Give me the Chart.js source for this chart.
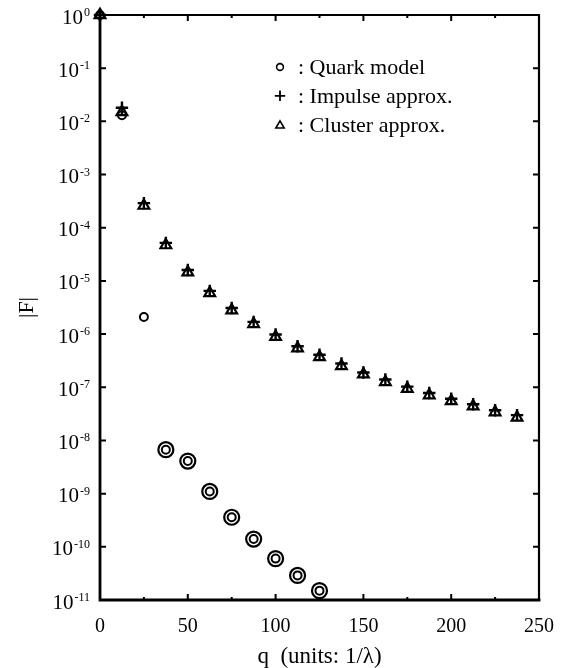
<!DOCTYPE html>
<html>
<head>
<meta charset="utf-8">
<script src="https://cdn.jsdelivr.net/npm/chart.js@4.4.1/dist/chart.umd.min.js"></script>
<style>
  html, body { margin: 0; padding: 0; background: #fff; }
  canvas { display: block; }
</style>
</head>
<body>
<canvas id="formFactorChart" width="569" height="668"></canvas>
<script>
// momentum transfer q (units 1/lambda)
const qValues = [0, 12.5, 25, 37.5, 50, 62.5, 75, 87.5, 100, 112.5, 125,
    137.5, 150, 162.5, 175, 187.5, 200, 212.5, 225, 237.5];

// |F| for each model
const quarkModel = [1, 1.3e-2, 2.1e-6, 6.7e-9, 4.1e-9, 1.1e-9, 3.6e-10, 1.4e-10, 6.0e-11, 2.9e-11, 1.5e-11];
const impulseApprox = [1, 1.8e-2, 2.9e-4, 5.2e-5, 1.6e-5, 6.5e-6, 3.1e-6, 1.7e-6, 9.8e-7, 5.9e-7, 4.1e-7,
    2.8e-7, 1.9e-7, 1.4e-7, 1.03e-7, 7.8e-8, 6.1e-8, 4.8e-8, 3.7e-8, 3.0e-8];
const clusterApprox = [1, 1.5e-2, 2.6e-4, 4.7e-5, 1.45e-5, 5.9e-6, 2.8e-6, 1.55e-6, 8.9e-7, 5.4e-7, 3.7e-7,
    2.5e-7, 1.75e-7, 1.25e-7, 9.4e-8, 7.1e-8, 5.5e-8, 4.4e-8, 3.4e-8, 2.7e-8];

const yTickExps = [0, -1, -2, -3, -4, -5, -6, -7, -8, -9, -10, -11];
const xTickLabels = [0, 50, 100, 150, 200, 250];

const legendLabels = ['Quark model', 'Impulse approx.', 'Cluster approx.'];

const serif = '"Liberation Serif", "Times New Roman", serif';
Chart.defaults.font.family = serif;
Chart.defaults.color = '#000';

const toPoints = arr => arr.map((v, i) => ({ x: qValues[i], y: v }));

// box frame with inward ticks on all four sides
const frameAndTicks = {
    id: 'frameAndTicks',
    beforeDatasetsDraw(chart) {
        const { ctx, chartArea: a, scales: { x, y } } = chart;
        ctx.save();
        ctx.strokeStyle = '#000';
        ctx.lineCap = 'square';

        ctx.lineWidth = 2.2;
        ctx.beginPath();
        ctx.moveTo(a.left, a.top); ctx.lineTo(a.right, a.top); ctx.lineTo(a.right, a.bottom);
        ctx.stroke();
        ctx.lineWidth = 2.8;
        ctx.beginPath();
        ctx.moveTo(a.left, a.top); ctx.lineTo(a.left, a.bottom); ctx.lineTo(a.right, a.bottom);
        ctx.stroke();

        ctx.lineCap = 'butt';
        ctx.lineWidth = 2;
        ctx.beginPath();
        yTickExps.forEach(e => {
            const py = y.getPixelForValue(Math.pow(10, e));
            ctx.moveTo(a.left, py); ctx.lineTo(a.left + 6, py);
            ctx.moveTo(a.right, py); ctx.lineTo(a.right - 6, py);
        });
        xTickLabels.forEach((v, i) => {
            const px = x.getPixelForValue(v);
            ctx.moveTo(px, a.bottom); ctx.lineTo(px, a.bottom - 6);
            ctx.moveTo(px, a.top); ctx.lineTo(px, a.top + 6);
            if (i < xTickLabels.length - 1) {
                const mx = x.getPixelForValue((v + xTickLabels[i + 1]) / 2);
                ctx.moveTo(mx, a.bottom); ctx.lineTo(mx, a.bottom - 3);
                ctx.moveTo(mx, a.top); ctx.lineTo(mx, a.top + 3);
            }
        });
        ctx.stroke();
        ctx.restore();
    }
};

// 10^n labels on the log axis, with raised exponents
const decadeLabels = {
    id: 'decadeLabels',
    afterDraw(chart) {
        const { ctx, chartArea: a, scales: { y } } = chart;
        const right = a.left - 10;
        ctx.save();
        ctx.fillStyle = '#000';
        ctx.textAlign = 'left';
        ctx.textBaseline = 'alphabetic';
        yTickExps.forEach(e => {
            const py = y.getPixelForValue(Math.pow(10, e));
            const expText = String(e);
            ctx.font = '12px ' + serif;
            const expW = ctx.measureText(expText).width;
            ctx.font = '21px ' + serif;
            const baseW = ctx.measureText('10').width;
            const x0 = right - expW - baseW - 1;
            ctx.fillText('10', x0, py + 8.5);
            ctx.font = '12px ' + serif;
            ctx.fillText(expText, x0 + baseW + 1, py + 1);
        });
        ctx.restore();
    }
};

// symbol key in the upper right of the plot
const symbolKey = {
    id: 'symbolKey',
    afterDraw(chart) {
        const { ctx } = chart;
        const styles = [
            { pointStyle: 'circle', radius: 3.4, borderWidth: 1.6 },
            { pointStyle: 'cross', radius: 5.2, borderWidth: 1.8 },
            { pointStyle: 'triangle', radius: 4.8, borderWidth: 1.6 }
        ];
        ctx.save();
        ctx.fillStyle = '#000';
        ctx.strokeStyle = '#000';
        ctx.font = '22px ' + serif;
        ctx.textBaseline = 'alphabetic';
        legendLabels.forEach((label, i) => {
            const rowY = 74 + i * 28.8;
            const s = styles[i];
            ctx.save();
            ctx.lineWidth = s.borderWidth;
            ctx.fillStyle = 'rgba(0,0,0,0)';
            Chart.helpers.drawPoint(ctx, { pointStyle: s.pointStyle, radius: s.radius, borderWidth: s.borderWidth, rotation: 0 },
                280, rowY - (i === 2 ? 6 : 7));
            ctx.restore();
            ctx.fillText(': ' + label, 298, rowY);
        });
        ctx.restore();
    }
};

new Chart(document.getElementById('formFactorChart'), {
    type: 'scatter',
    data: {
        datasets: [
            {
                label: 'Quark model',
                data: toPoints(quarkModel),
                pointStyle: 'circle',
                pointRadius: 4,
                borderWidth: 2,
                borderColor: '#000',
                backgroundColor: 'rgba(0,0,0,0)',
                clip: false
            },
            {
                // outer ring drawn round the deep quark-model points
                label: 'Quark model (ring)',
                data: toPoints(quarkModel),
                pointStyle: 'circle',
                pointRadius: ctx => ctx.dataIndex >= 3 ? 7.5 : 0,
                borderWidth: 2.2,
                borderColor: '#000',
                backgroundColor: 'rgba(0,0,0,0)',
                clip: false
            },
            {
                label: 'Impulse approx.',
                data: toPoints(impulseApprox),
                pointStyle: 'cross',
                pointRadius: 6.2,
                borderWidth: 2.4,
                borderColor: '#000',
                clip: false
            },
            {
                label: 'Cluster approx.',
                data: toPoints(clusterApprox),
                pointStyle: 'triangle',
                pointRadius: 6.2,
                borderWidth: 2.2,
                borderColor: '#000',
                backgroundColor: 'rgba(0,0,0,0)',
                clip: false
            }
        ]
    },
    options: {
        responsive: false,
        animation: false,
        devicePixelRatio: 1,
        layout: { padding: { left: 0, right: 29, top: 15, bottom: 0 } },
        plugins: {
            legend: { display: false },
            tooltip: { enabled: false }
        },
        scales: {
            x: {
                type: 'linear',
                min: 0,
                max: 250,
                afterBuildTicks: scale => { scale.ticks = xTickLabels.map(v => ({ value: v })); },
                afterFit: scale => { scale.height = 68; },
                grid: { display: false, drawTicks: false },
                border: { display: false },
                ticks: { padding: 15, font: { size: 20 }, color: '#000', maxRotation: 0 },
                title: {
                    display: true,
                    text: 'q  (units: 1/\u03bb)',
                    font: { size: 23, lineHeight: 1 },
                    color: '#000',
                    padding: { top: 0, bottom: 0 }
                }
            },
            y: {
                type: 'logarithmic',
                min: 1e-11,
                max: 1,
                afterFit: scale => { scale.width = 100; },
                grid: { display: false, drawTicks: false },
                border: { display: false },
                ticks: { display: false },
                title: {
                    display: true,
                    text: '|F|',
                    font: { size: 22, lineHeight: 1 },
                    color: '#000',
                    padding: { top: 16, bottom: 0 }
                }
            }
        }
    },
    plugins: [frameAndTicks, decadeLabels, symbolKey]
});
</script>
</body>
</html>
